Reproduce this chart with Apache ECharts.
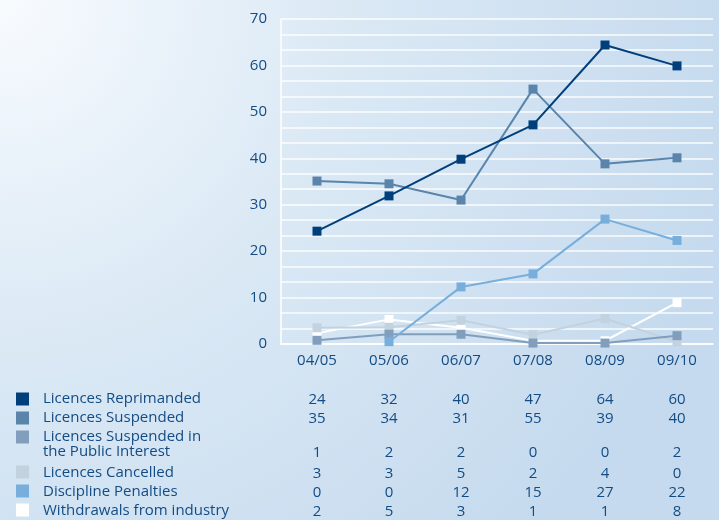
<!DOCTYPE html>
<html>
<head>
<meta charset="utf-8">
<script src="https://cdn.jsdelivr.net/npm/echarts@6/dist/echarts.min.js"></script>
<style>
  html, body { margin: 0; padding: 0; }
  #chart { width: 719px; height: 520px; }
</style>
</head>
<body>
<div id="chart"></div>
<script>
// data
const years = ['04/05', '05/06', '06/07', '07/08', '08/09', '09/10']

// plotted points (as drawn in the graph)
const reprimanded = [24.3, 31.9, 39.8, 47.2, 64.4, 59.9]
const suspended = [35.1, 34.5, 31.0, 54.9, 38.8, 40.1]
const suspendedPublic = [0.8, 2.1, 2.1, 0.2, 0.2, 1.8]
const cancelled = [3.5, 3.6, 5.1, 2.0, 5.5, 0.5]
const penalties = [null, 0.5, 12.3, 15.1, 26.9, 22.3]
const withdrawals = [2.3, 5.3, 3.5, 0.7, 0.7, 8.9]

// table under the graph
const rowNames = ['Licences Reprimanded', 'Licences Suspended', 'Licences Suspended in\nthe Public Interest', 'Licences Cancelled', 'Discipline Penalties', 'Withdrawals from industry']
const tReprimanded = [24, 32, 40, 47, 64, 60]
const tSuspended = [35, 34, 31, 55, 39, 40]
const tPublic = [1, 2, 2, 0, 0, 2]
const tCancelled = [3, 3, 5, 2, 4, 0]
const tPenalties = [0, 0, 12, 15, 27, 22]
const tWithdrawals = [2, 5, 3, 1, 1, 8]

const colors = ['#003f7c', '#5a84aa', '#819fbd', '#c2d2df', '#78aedb', '#ffffff']
const textColor = '#134c84'
const font = '"Open Sans", "Noto Sans", sans-serif'

const myChart = echarts.init(document.getElementById('chart'))

const mkSeries = (name, data, color, z) => ({
    name: name,
    type: 'line',
    data: data,
    z: z,
    symbol: 'rect',
    symbolSize: 9,
    lineStyle: { color: color, width: 2 },
    itemStyle: { color: color },
    animation: false
})

const option = {
    backgroundColor: new echarts.graphic.RadialGradient(0, 0, 1.45, [
        { offset: 0, color: '#f8fbfe' },
        { offset: 0.45, color: '#dbe9f5' },
        { offset: 1, color: '#c5daee' }
    ]),
    grid: { left: 281, right: 6, top: 19, bottom: 176 },
    xAxis: {
        type: 'category',
        data: years,
        axisTick: { show: false },
        axisLine: { lineStyle: { color: '#ffffff', width: 1.5 } },
        axisLabel: { color: textColor, fontFamily: font, fontSize: 15, fontWeight: 500, margin: 9 }
    },
    yAxis: {
        type: 'value',
        min: 0,
        max: 70,
        interval: 10,
        axisLine: { show: true, lineStyle: { color: '#ffffff', width: 1.5 } },
        axisTick: { show: false },
        axisLabel: { color: textColor, fontFamily: font, fontSize: 15, fontWeight: 500, margin: 14 },
        splitLine: { lineStyle: { color: 'rgba(255,255,255,0.9)', width: 1.5 } },
        minorTick: { show: false, splitNumber: 3 },
        minorSplitLine: { show: true, lineStyle: { color: 'rgba(255,255,255,0.9)', width: 1.5 } }
    },
    series: [
        mkSeries('Withdrawals from industry', withdrawals, colors[5], 2),
        mkSeries('Licences Cancelled', cancelled, colors[3], 3),
        mkSeries('Licences Suspended in the Public Interest', suspendedPublic, colors[2], 4),
        mkSeries('Discipline Penalties', penalties, colors[4], 5),
        mkSeries('Licences Suspended', suspended, colors[1], 6),
        mkSeries('Licences Reprimanded', reprimanded, colors[0], 7)
    ]
}

myChart.setOption(option)

// table + legend drawn below the graph, columns lined up with the x axis
const tableRows = [tReprimanded, tSuspended, tPublic, tCancelled, tPenalties, tWithdrawals]
const rowY = [400, 419, 453, 474, 493, 512]
const boxY = [399, 418, 437, 472, 491, 510]
const labelY = [400, 419, 438, 474, 493, 512]
const elements = []
rowNames.forEach((name, r) => {
    elements.push({
        type: 'rect',
        shape: { x: 16, y: boxY[r] - 6.5, width: 13, height: 13 },
        style: { fill: colors[r] }
    })
    elements.push({
        type: 'text',
        x: 43,
        y: labelY[r] - 9,
        style: {
            text: name,
            fill: textColor,
            font: '500 15px ' + font,
            lineHeight: 15,
            verticalAlign: 'top'
        }
    })
    tableRows[r].forEach((v, i) => {
        const px = myChart.convertToPixel({ xAxisIndex: 0 }, years[i])
        elements.push({
            type: 'text',
            x: px,
            y: rowY[r],
            style: {
                text: String(v),
                fill: textColor,
                font: '500 15px ' + font,
                align: 'center',
                verticalAlign: 'middle'
            }
        })
    })
})
myChart.setOption({ graphic: { elements: elements } })

window.addEventListener('resize', () => {
    myChart.resize()
})
</script>
</body>
</html>
